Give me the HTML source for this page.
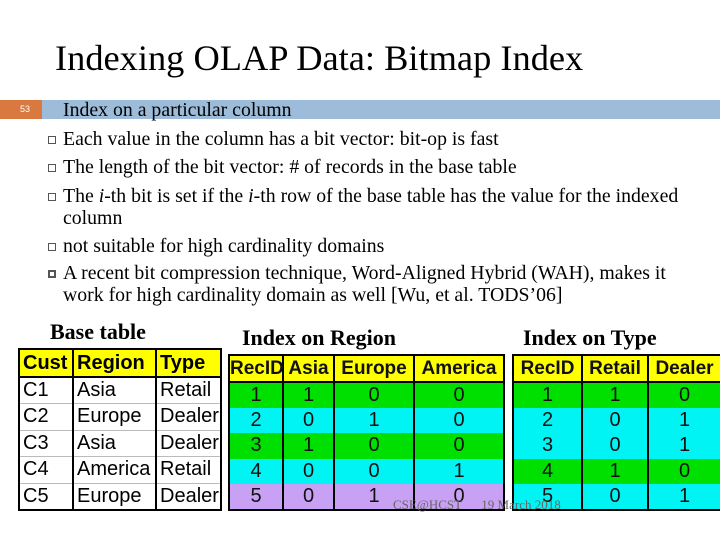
<!DOCTYPE html>
<html><head><meta charset="utf-8"><style>
*{margin:0;padding:0;box-sizing:border-box}
body{width:720px;height:540px;background:#fff;position:relative;overflow:hidden;font-family:"Liberation Serif",serif}
.abs{position:absolute}
.title{left:55px;top:37px;font-size:36.4px;color:#000;white-space:nowrap}
.bar{left:42px;top:100px;width:678px;height:19px;background:#9dbcd9}
.num{left:0;top:100px;width:42px;height:19px;background:#d9783f;color:#fff;font:9px "Liberation Sans",sans-serif;line-height:19px;padding-left:20px}
.b{position:absolute;left:42px;font-size:19.8px;line-height:22px}
.b span.box{position:absolute;left:6px;top:8px;width:8px;height:8px;border:1px solid #555}
.b .t{position:absolute;left:21px;white-space:nowrap}
.cap{font-size:22px;font-weight:bold}
table{position:absolute;border-collapse:collapse;font-family:"Liberation Sans",sans-serif;table-layout:fixed}
td{border-left:2px solid #000;border-right:2px solid #000;padding:0}
.base td{font-size:20px;border-bottom:1px solid #bbb;padding-left:3px}
.base tr.h td{background:#ffff00;font-weight:bold;border-bottom:2px solid #000}
.base{border:2px solid #000}
.idx{border:2px solid #000}
.idx td{text-align:center;font-size:20px;color:#111}
.idx tr.h td{background:#ffff00;font-weight:bold;border-bottom:2px solid #000;font-size:19px}
.g td{background:#00e000}.c td{background:#00f4f4}.p td{background:#c8a0f4}
.foot{left:393px;top:497px;font-size:13px;color:#666}
</style></head><body>
<div class="abs title">Indexing OLAP Data: Bitmap Index</div>
<div class="abs bar"></div>
<div class="abs num">53</div>
<div class="b" style="top:99px"><span class="t">Index on a particular column</span></div>
<div class="b" style="top:128px"><span class="box"></span><span class="t">Each value in the column has a bit vector: bit-op is fast</span></div>
<div class="b" style="top:156px"><span class="box"></span><span class="t">The length of the bit vector: # of records in the base table</span></div>
<div class="b" style="top:185px"><span class="box"></span><span class="t">The <i>i</i>-th bit is set if the <i>i</i>-th row of the base table has the value for the indexed<br>column</span></div>
<div class="b" style="top:235px"><span class="box"></span><span class="t">not suitable for high cardinality domains</span></div>
<div class="b" style="top:262px"><span class="box" style="border-width:2px"></span><span class="t">A recent bit compression technique, Word-Aligned Hybrid (WAH), makes it<br>work for high cardinality domain as well [Wu, et al. TODS’06]</span></div>
<div class="abs cap" style="left:50px;top:319px">Base table</div>
<div class="abs cap" style="left:242px;top:325px">Index on Region</div>
<div class="abs cap" style="left:523px;top:325px">Index on Type</div>

<table class="base" style="left:18px;top:348px;width:202px">
<colgroup><col style="width:54px"><col style="width:83px"><col style="width:65px"></colgroup>
<tr class="h" style="height:28px"><td>Cust</td><td>Region</td><td>Type</td></tr>
<tr style="height:26.5px"><td>C1</td><td>Asia</td><td>Retail</td></tr>
<tr style="height:26.5px"><td>C2</td><td>Europe</td><td>Dealer</td></tr>
<tr style="height:26.5px"><td>C3</td><td>Asia</td><td>Dealer</td></tr>
<tr style="height:26.5px"><td>C4</td><td>America</td><td>Retail</td></tr>
<tr style="height:26.5px"><td>C5</td><td>Europe</td><td>Dealer</td></tr>
</table>

<table class="idx" style="left:228px;top:354px;width:275px">
<colgroup><col style="width:54px"><col style="width:51px"><col style="width:80px"><col style="width:90px"></colgroup>
<tr class="h" style="height:27px"><td>RecID</td><td>Asia</td><td>Europe</td><td>America</td></tr>
<tr class="g" style="height:25.5px"><td>1</td><td>1</td><td>0</td><td>0</td></tr>
<tr class="c" style="height:25.5px"><td>2</td><td>0</td><td>1</td><td>0</td></tr>
<tr class="g" style="height:25.5px"><td>3</td><td>1</td><td>0</td><td>0</td></tr>
<tr class="c" style="height:25.5px"><td>4</td><td>0</td><td>0</td><td>1</td></tr>
<tr class="p" style="height:25.5px"><td>5</td><td>0</td><td>1</td><td>0</td></tr>
</table>

<table class="idx" style="left:512px;top:354px;width:208px">
<colgroup><col style="width:69px"><col style="width:66px"><col style="width:73px"></colgroup>
<tr class="h" style="height:27px"><td>RecID</td><td>Retail</td><td>Dealer</td></tr>
<tr class="g" style="height:25.5px"><td>1</td><td>1</td><td>0</td></tr>
<tr class="c" style="height:25.5px"><td>2</td><td>0</td><td>1</td></tr>
<tr class="c" style="height:25.5px"><td>3</td><td>0</td><td>1</td></tr>
<tr class="g" style="height:25.5px"><td>4</td><td>1</td><td>0</td></tr>
<tr class="c" style="height:25.5px"><td>5</td><td>0</td><td>1</td></tr>
</table>
<div class="abs foot">CSE@HCST &nbsp;&nbsp;&nbsp;&nbsp; 19 March 2018</div>
</body></html>
